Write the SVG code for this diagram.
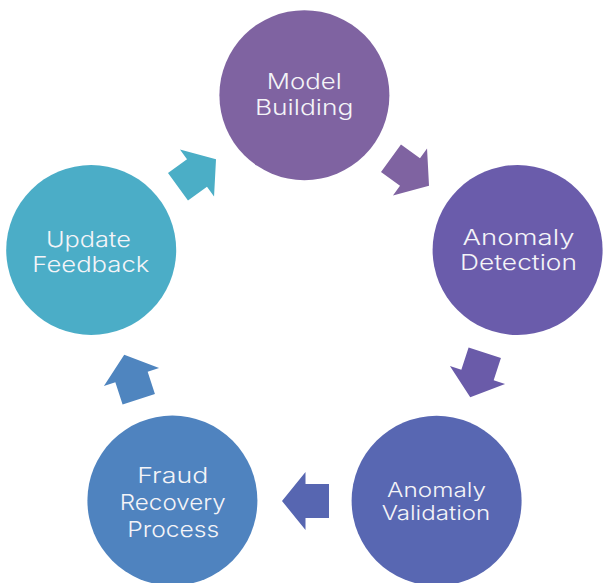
<svg xmlns="http://www.w3.org/2000/svg" width="603" height="583" viewBox="0 0 603 583">
  <defs>
    <!-- block arrow pointing along +x, centred on the origin -->
    <polygon id="blockArrow" points="-23.5,-17 0,-17 0,-29 23.5,0 0,29 0,17 -23.5,17"/>
  </defs>
  <style>
    .label { font-family: Inter, "Open Sans", "Liberation Sans", sans-serif; font-size: 22px; font-weight: 300; fill: #F4F4F8; text-anchor: middle; }
    .small { font-size: 19.5px; }
  </style>
  <rect width="603" height="583" fill="#FFFFFF"/>

  <g id="connectors">
    <use href="#blockArrow" transform="translate(410,172) rotate(36)" fill="#7F63A1"/>
    <use href="#blockArrow" transform="translate(477.5,375) rotate(108)" fill="#6A5BA9"/>
    <use href="#blockArrow" transform="translate(305.5,501) rotate(180)" fill="#5766B1"/>
    <use href="#blockArrow" transform="translate(131.5,377) rotate(252)" fill="#4F85BF"/>
    <use href="#blockArrow" transform="translate(197,173) rotate(324)" fill="#4BAEC6"/>
  </g>

  <g id="model-building">
    <circle cx="304.4" cy="95.2" r="85" fill="#7F63A1"/>
    <text class="label" x="304.2" y="89.3" textLength="75" lengthAdjust="spacingAndGlyphs">Model</text>
    <text class="label" x="304.2" y="115" textLength="98.5" lengthAdjust="spacingAndGlyphs">Building</text>
  </g>

  <g id="anomaly-detection">
    <circle cx="517.6" cy="250" r="85" fill="#6A5CAB"/>
    <text class="label" x="518.5" y="245" textLength="112" lengthAdjust="spacingAndGlyphs">Anomaly</text>
    <text class="label" x="518.5" y="270" textLength="117" lengthAdjust="spacingAndGlyphs">Detection</text>
  </g>

  <g id="anomaly-validation">
    <circle cx="436.6" cy="500.8" r="85" fill="#5867B2"/>
    <text class="label small" x="436.6" y="497.3" textLength="99" lengthAdjust="spacingAndGlyphs">Anomaly</text>
    <text class="label small" x="436" y="520" textLength="108.5" lengthAdjust="spacingAndGlyphs">Validation</text>
  </g>

  <g id="fraud-recovery-process">
    <circle cx="172.4" cy="500.6" r="85" fill="#4F83BF"/>
    <text class="label" x="172.8" y="483.3" textLength="71" lengthAdjust="spacingAndGlyphs">Fraud</text>
    <text class="label" x="172.8" y="510" textLength="106" lengthAdjust="spacingAndGlyphs">Recovery</text>
    <text class="label" x="173.3" y="536.7" textLength="92" lengthAdjust="spacingAndGlyphs">Process</text>
  </g>

  <g id="update-feedback">
    <circle cx="91.2" cy="250" r="85" fill="#4BADC7"/>
    <text class="label" x="88.4" y="246.5" textLength="85" lengthAdjust="spacingAndGlyphs">Update</text>
    <text class="label" x="90.8" y="271.7" textLength="117" lengthAdjust="spacingAndGlyphs">Feedback</text>
  </g>
</svg>
